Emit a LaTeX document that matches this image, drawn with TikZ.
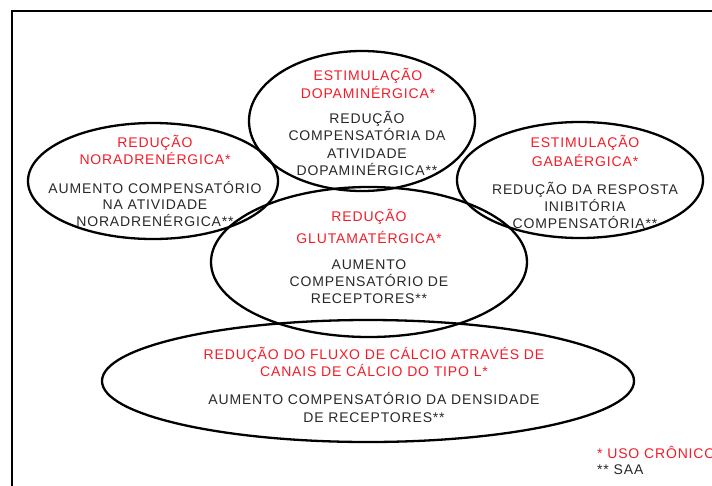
\documentclass[tikz,border=0pt]{standalone}
\usepackage{fontspec}
\setmainfont[LetterSpace=6]{Liberation Sans}
\usetikzlibrary{shapes.geometric}
\definecolor{hired}{RGB}{242,28,40}
\definecolor{txtgray}{RGB}{40,40,40}
\begin{document}
\begin{tikzpicture}[x=1pt,y=-1pt,
  oval/.style={draw=black, line width=2.3pt, ellipse, inner sep=0pt},
  redtxt/.style={text=hired, align=center, inner sep=0pt, font=\fontsize{14}{18.5}\selectfont},
  blktxt/.style={text=txtgray, align=center, inner sep=0pt, font=\fontsize{14}{17.5}\selectfont},
  legtxt/.style={anchor=west, inner sep=0pt, font=\fontsize{14}{17}\selectfont}]
\useasboundingbox (0,0) rectangle (712,485);
\begin{scope}
\clip (0,0) rectangle (712,485);
\draw[line width=2.4pt] (12,11) rectangle (730,500);
\end{scope}
% ellipses
\node[oval, minimum width=226pt, minimum height=140pt] (dopa) at (362,121) {};
\node[oval, minimum width=250pt, minimum height=116pt] (nora) at (153,181) {};
\node[oval, minimum width=246pt, minimum height=116pt] (gaba) at (580,180) {};
\node[oval, minimum width=316pt, minimum height=150pt] (glut) at (369,262) {};
\node[oval, minimum width=532pt, minimum height=122pt] (calc) at (368,381) {};
% texts
\node[redtxt] (dopaR) at (368,83.5) {ESTIMULAÇÃO\\DOPAMINÉRGICA*};
\node[blktxt] (dopaB) at (367,143.5) {REDUÇÃO\\COMPENSATÓRIA DA\\ATIVIDADE\\DOPAMINÉRGICA**};
\node[redtxt, font=\fontsize{14}{17}\selectfont] (noraR) at (155,149.5) {REDUÇÃO\\NORADRENÉRGICA*};
\node[blktxt, font=\fontsize{14}{16.5}\selectfont] (noraB) at (155,203.5) {AUMENTO COMPENSATÓRIO\\NA ATIVIDADE\\NORADRENÉRGICA**};
\node[redtxt] (gabaR) at (585,151) {ESTIMULAÇÃO\\GABAÉRGICA*};
\node[blktxt, font=\fontsize{14}{17}\selectfont] (gabaB) at (585,205) {REDUÇÃO DA RESPOSTA\\INIBITÓRIA\\COMPENSATÓRIA**};
\node[redtxt, font=\fontsize{14}{22}\selectfont] (glutR) at (369,226) {REDUÇÃO\\GLUTAMATÉRGICA*};
\node[blktxt, font=\fontsize{14}{17}\selectfont] (glutB) at (369,282) {AUMENTO\\COMPENSATÓRIO DE\\RECEPTORES**};
\node[redtxt, font=\fontsize{14}{17}\selectfont] (calcR) at (374,361.5) {REDUÇÃO DO FLUXO DE CÁLCIO ATRAVÉS DE\\CANAIS DE CÁLCIO DO TIPO L*};
\node[blktxt, font=\fontsize{14}{18}\selectfont] (calcB) at (374,407) {AUMENTO COMPENSATÓRIO DA DENSIDADE\\DE RECEPTORES**};
% legend
\node[legtxt, text=hired] (leg1) at (597,452) {* USO CRÔNICO};
\node[legtxt, text=txtgray] (leg2) at (597,470) {** SAA};
\end{tikzpicture}
\end{document}
